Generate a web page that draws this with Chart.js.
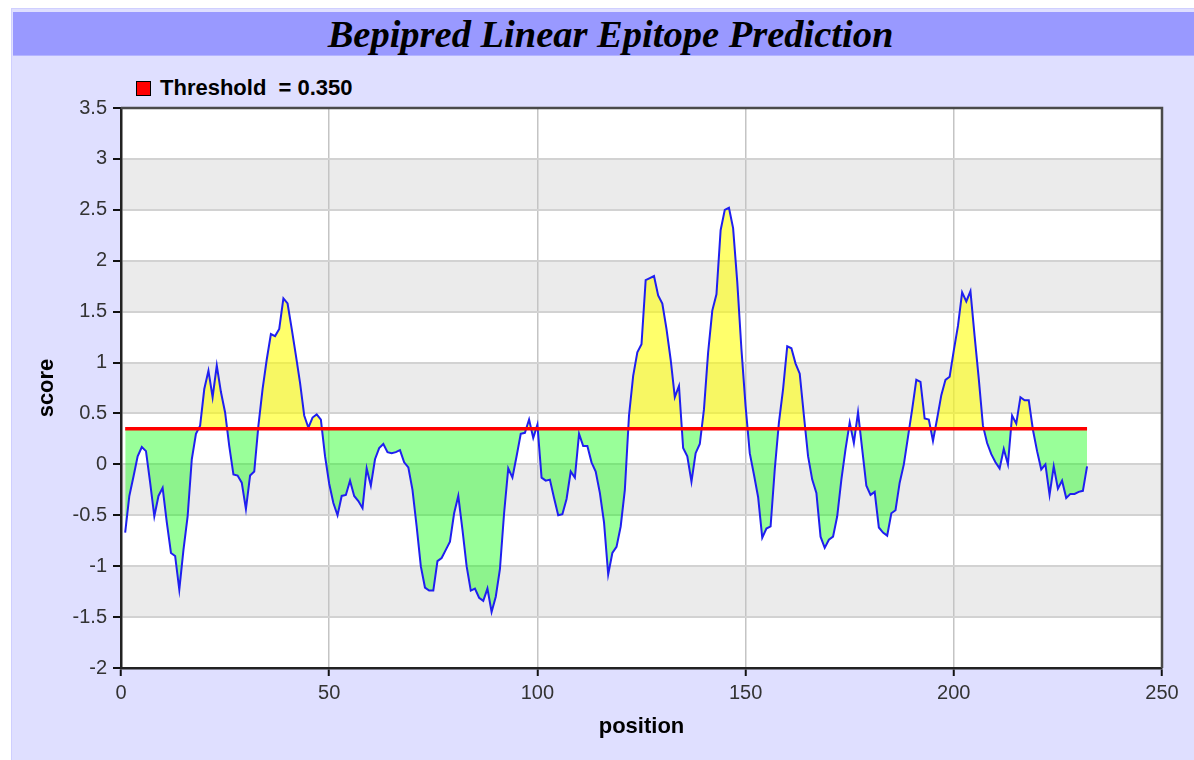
<!DOCTYPE html>
<html>
<head>
<meta charset="utf-8">
<script src="https://cdn.jsdelivr.net/npm/chart.js@4.4.1/dist/chart.umd.min.js"></script>
<style>
  html, body { margin: 0; padding: 0; background: #ffffff; }
  body { width: 1194px; height: 760px; position: relative; overflow: hidden; }
  #panel { position: absolute; left: 11px; top: 8px; right: 0; bottom: 0; background: #dfdfff; border-left: 1px solid #cfcfff; border-top: 1px solid #cfcfff; }
  #titlebar { position: absolute; left: 13px; top: 12px; right: 0; height: 43px; background: #9999ff; border-bottom: 1px solid #b4b4ff; }
  #title { position: absolute; left: 14px; right: 0; top: 1px; height: 43px; line-height: 43px; text-align: center; font-family: "Liberation Serif", serif; font-style: italic; font-weight: bold; font-size: 38.5px; color: #000; white-space: nowrap; }
  #legend { position: absolute; left: 136px; top: 78px; height: 20px; font-family: "Liberation Sans", Arial, sans-serif; font-weight: bold; font-size: 22px; color: #000; white-space: pre; line-height: 20px; }
  #legend .sw { display: inline-block; width: 13px; height: 13px; background: #ff0000; border: 1px solid #000; vertical-align: -1px; margin-right: 9px; }
  #c { position: absolute; left: 0; top: 0; }
</style>
</head>
<body>
<div id="panel"></div>
<div id="titlebar"><div id="title">Bepipred Linear Epitope Prediction</div></div>
<div id="legend"><span class="sw"></span>Threshold  = 0.350</div>
<canvas id="c" width="1194" height="760"></canvas>
<script>
// ---- data ----
const firstPosition = 1;
const scores = [
  -0.67, -0.31, -0.12, 0.08, 0.17, 0.13, -0.18, -0.51, -0.31, -0.23,
  -0.57, -0.87, -0.90, -1.23, -0.84, -0.51, 0.05, 0.30, 0.38, 0.74,
  0.92, 0.66, 0.97, 0.71, 0.51, 0.18, -0.10, -0.11, -0.18, -0.44,
  -0.11, -0.07, 0.38, 0.74, 1.03, 1.28, 1.26, 1.33, 1.63, 1.58,
  1.33, 1.07, 0.80, 0.48, 0.36, 0.46, 0.49, 0.44, 0.08, -0.19,
  -0.38, -0.50, -0.31, -0.30, -0.16, -0.31, -0.36, -0.43, -0.04, -0.21,
  0.05, 0.16, 0.20, 0.12, 0.11, 0.12, 0.14, 0.02, -0.03, -0.25,
  -0.61, -1.00, -1.21, -1.24, -1.24, -0.95, -0.92, -0.84, -0.76, -0.48,
  -0.31, -0.64, -1.00, -1.24, -1.22, -1.31, -1.34, -1.22, -1.45, -1.30,
  -1.03, -0.48, -0.04, -0.13, 0.08, 0.30, 0.31, 0.44, 0.26, 0.39,
  -0.13, -0.16, -0.15, -0.33, -0.50, -0.49, -0.34, -0.07, -0.13, 0.30,
  0.18, 0.18, 0.02, -0.07, -0.28, -0.57, -1.08, -0.87, -0.81, -0.61,
  -0.25, 0.48, 0.87, 1.10, 1.18, 1.81, 1.83, 1.85, 1.66, 1.58,
  1.33, 1.03, 0.66, 0.77, 0.16, 0.08, -0.17, 0.11, 0.20, 0.54,
  1.10, 1.51, 1.67, 2.30, 2.50, 2.52, 2.32, 1.79, 1.13, 0.57,
  0.11, -0.10, -0.32, -0.72, -0.63, -0.61, -0.05, 0.41, 0.74, 1.16,
  1.14, 0.99, 0.89, 0.48, 0.08, -0.15, -0.28, -0.71, -0.82, -0.74,
  -0.71, -0.51, -0.15, 0.15, 0.41, 0.21, 0.51, 0.15, -0.21, -0.30,
  -0.27, -0.62, -0.67, -0.70, -0.48, -0.45, -0.18, 0.00, 0.27, 0.54,
  0.83, 0.81, 0.45, 0.44, 0.23, 0.45, 0.68, 0.83, 0.86, 1.12,
  1.36, 1.69, 1.60, 1.70, 1.26, 0.84, 0.38, 0.21, 0.10, 0.02,
  -0.04, 0.15, 0.00, 0.48, 0.40, 0.66, 0.63, 0.63, 0.34, 0.13,
  -0.05, 0.00, -0.30, -0.02, -0.24, -0.16, -0.33, -0.29, -0.29, -0.27,
  -0.26, -0.02
];
const threshold = 0.35;
const xTicks = [0, 50, 100, 150, 200, 250];
const yTicks = [-2, -1.5, -1, -0.5, 0, 0.5, 1, 1.5, 2, 2.5, 3, 3.5];
const xTitle = 'position';
const yTitle = 'score';

// ---- build chart ----
const scorePoints = scores.map((v, i) => ({ x: firstPosition + i, y: v }));
const lastPosition = firstPosition + scores.length - 1;
const thresholdPoints = [{ x: firstPosition, y: threshold }, { x: lastPosition, y: threshold }];

const bandsPlugin = {
  id: 'bands',
  beforeDraw(chart) {
    const { ctx, chartArea: a, scales } = chart;
    const y = scales.y;
    ctx.save();
    ctx.fillStyle = '#ffffff';
    ctx.fillRect(a.left, a.top, a.right - a.left, a.bottom - a.top);
    ctx.fillStyle = '#ebebeb';
    for (let i = 0; i < yTicks.length - 1; i++) {
      const lo = yTicks[i], hi = yTicks[i + 1];
      if (Number.isInteger(hi)) {
        const p1 = y.getPixelForValue(hi), p2 = y.getPixelForValue(lo);
        ctx.fillRect(a.left, p1, a.right - a.left, p2 - p1);
      }
    }
    ctx.restore();
  },
  afterDraw(chart) {
    const { ctx, chartArea: a } = chart;
    ctx.save();
    ctx.strokeStyle = '#4a4a4a';
    ctx.lineWidth = 2.5;
    ctx.beginPath();
    ctx.moveTo(a.left, a.top);
    ctx.lineTo(a.right, a.top);
    ctx.lineTo(a.right, a.bottom);
    ctx.stroke();
    ctx.restore();
  }
};

new Chart(document.getElementById('c'), {
  type: 'line',
  data: {
    datasets: [
      {
        label: 'Threshold  = 0.350',
        data: thresholdPoints,
        borderColor: '#ff0000',
        borderWidth: 3.5,
        pointRadius: 0,
        fill: false,
        tension: 0
      },
      {
        label: 'score',
        data: scorePoints,
        borderColor: '#1f1ff0',
        borderWidth: 2,
        pointRadius: 0,
        tension: 0,
        fill: { target: { value: threshold }, above: 'rgba(255,255,0,0.58)', below: 'rgba(0,255,0,0.40)' }
      }
    ]
  },
  options: {
    responsive: false,
    animation: false,
    events: [],
    layout: { padding: { left: 0, top: 108, right: 32, bottom: 0 } },
    plugins: { legend: { display: false }, tooltip: { enabled: false }, title: { display: false } },
    scales: {
      x: {
        type: 'linear',
        min: 0, max: 250,
        afterFit: s => { s.height = 92; },
        afterBuildTicks: s => { s.ticks = xTicks.map(v => ({ value: v })); },
        ticks: { padding: 5, color: '#333', font: { family: 'Liberation Sans', size: 20 }, callback: v => String(v) },
        grid: { color: '#c4c4c4', lineWidth: 1.5, tickColor: '#111', tickWidth: 2, tickLength: 8 },
        border: { color: '#222', width: 2.5 },
        title: { display: true, text: xTitle, color: '#000', font: { family: 'Liberation Sans', size: 22, weight: 'bold' }, padding: { top: 0, bottom: 20 } }
      },
      y: {
        type: 'linear',
        min: -2, max: 3.5,
        afterFit: s => { s.width = 121; },
        afterBuildTicks: s => { s.ticks = yTicks.map(v => ({ value: v })); },
        ticks: { padding: 6, color: '#333', font: { family: 'Liberation Sans', size: 20 }, callback: v => String(v) },
        grid: { color: '#d2d2d2', lineWidth: 2, tickColor: '#111', tickWidth: 2, tickLength: 8 },
        border: { color: '#222', width: 2.5 },
        title: { display: true, text: yTitle, color: '#000', font: { family: 'Liberation Sans', size: 22, weight: 'bold' }, padding: { top: 34, bottom: 0 } }
      }
    }
  },
  plugins: [bandsPlugin]
});
</script>
</body>
</html>
